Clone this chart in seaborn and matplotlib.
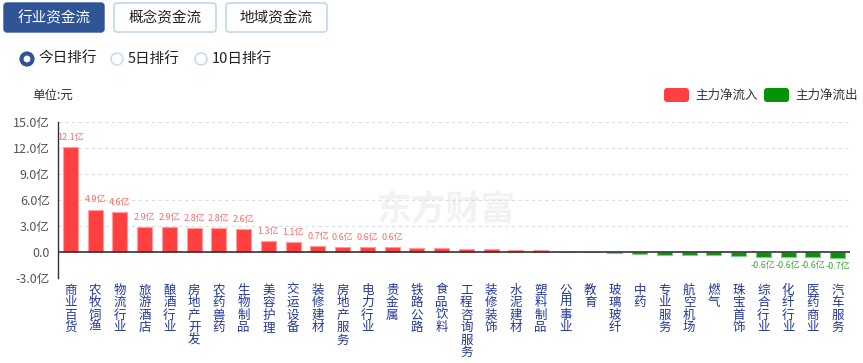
import matplotlib
matplotlib.use("Agg")
import matplotlib.pyplot as plt
import pandas as pd
import seaborn as sns
from matplotlib.patches import FancyBboxPatch, Circle

# industries and today's main net flow (unit: 亿元)
industries = ["商业百货", "农牧饲渔", "物流行业", "旅游酒店", "酿酒行业", "房地产开发",
              "农药兽药", "生物制品", "美容护理", "交运设备", "装修建材", "房地产服务",
              "电力行业", "贵金属", "铁路公路", "食品饮料", "工程咨询服务", "装修装饰",
              "水泥建材", "塑料制品", "公用事业", "教育", "玻璃玻纤", "中药",
              "专业服务", "航空机场", "燃气", "珠宝首饰", "综合行业", "化纤行业",
              "医药商业", "汽车服务"]
net_flow = [12.1, 4.9, 4.6, 2.9, 2.9, 2.8, 2.8, 2.6, 1.3, 1.1, 0.7, 0.6,
            0.6, 0.6, 0.5, 0.42, 0.35, 0.3, 0.23, 0.2, 0.03, -0.03, -0.15, -0.27,
            -0.3, -0.35, -0.4, -0.45, -0.6, -0.6, -0.6, -0.7]
y_ticks = [-3, 0, 3, 6, 9, 12, 15]
y_tick_labels = ["-3.0亿", "0.0", "3.0亿", "6.0亿", "9.0亿", "12.0亿", "15.0亿"]
tabs = ["行业资金流", "概念资金流", "地域资金流"]
ranks = ["今日排行", "5日排行", "10日排行"]
legend_names = ["主力净流入", "主力净流出"]

RED, GREEN = "#ff4040", "#069406"

df = pd.DataFrame({"industry": industries, "flow": net_flow})
df["direction"] = ["in" if v >= 0 else "out" for v in df["flow"]]

sns.set_theme(style="white")
plt.rcParams["font.family"] = ["Noto Sans CJK SC", "DejaVu Sans"]

W, H = 863, 363
fig = plt.figure(figsize=(W / 100, H / 100), dpi=100)

# chart area
ax = fig.add_axes([58 / W, 1 - 278 / H, (850 - 58) / W, (278 - 122) / H])
sns.barplot(data=df, x="industry", y="flow", hue="direction",
            palette={"in": RED, "out": GREEN}, dodge=False, legend=False,
            width=0.6, saturation=1, ax=ax, zorder=3)
for p, v in zip(ax.patches, df["flow"]):
    p.set_edgecolor("#ff9c9c" if v >= 0 else "#7fcf7f")
    p.set_linewidth(0.8)

ax.set_xlim(-0.5, len(industries) - 0.5)
ax.set_ylim(-3, 15)
ax.set_yticks(y_ticks)
ax.set_yticklabels(y_tick_labels, fontsize=9, color="#555555")
ax.set_xticks(range(len(industries)))
ax.set_xticklabels(["\n".join(n) for n in industries], fontsize=9,
                   color="#22379b", linespacing=0.95, va="top")
ax.tick_params(axis="both", length=0)
ax.tick_params(axis="y", pad=6)
ax.tick_params(axis="x", pad=4)
ax.set_xlabel("")
ax.set_ylabel("")
for t in y_ticks:
    if t != 0:
        ax.axhline(t, color="#dddddd", lw=0.8, ls=(0, (3, 3)), zorder=1)
ax.axhline(0, color="#333333", lw=1.2, zorder=4)
for s in ["top", "right", "bottom"]:
    ax.spines[s].set_visible(False)
ax.spines["left"].set_color("#333333")
ax.spines["left"].set_linewidth(1.0)

# value labels for larger flows
for i, v in enumerate(net_flow):
    if abs(v) >= 0.55:
        if v > 0:
            ax.annotate(f"{v:.1f}亿", (i, v), xytext=(0, 7), textcoords="offset points",
                        ha="center", va="center", fontsize=6.5, color="#ff6a6a")
        else:
            ax.annotate(f"{v:.1f}亿", (i, v), xytext=(0, -6), textcoords="offset points",
                        ha="center", va="center", fontsize=6.5, color="#3aa83a")

# watermark
ax.text(0.49, 0.44, "东方财富", transform=ax.transAxes, ha="center", va="center",
        fontsize=25, fontweight="bold", color="#f2f2f2", zorder=0)

# overlay in pixel coordinates for the page controls
ui = fig.add_axes([0, 0, 1, 1])
ui.set_xlim(0, W)
ui.set_ylim(H, 0)
ui.axis("off")
ui.patch.set_visible(False)

tab_x = [(4, 104), (114, 216), (226, 327)]
for k, (name, (x0, x1)) in enumerate(zip(tabs, tab_x)):
    active = k == 0
    ui.add_patch(FancyBboxPatch((x0, 3), x1 - x0, 29, boxstyle="round,pad=0,rounding_size=3",
                                fc="#2f5597" if active else "white",
                                ec="#2f5597" if active else "#b9cfe6", lw=1))
    ui.text((x0 + x1) / 2, 18, name, ha="center", va="center", fontsize=10.5,
            color="white" if active else "#222222")

radio_x = [27, 117, 201]
for k, (name, cx) in enumerate(zip(ranks, radio_x)):
    if k == 0:
        ui.add_patch(Circle((cx, 59), 5.5, fc="white", ec="#2f5597", lw=3))
    else:
        ui.add_patch(Circle((cx, 59), 6, fc="white", ec="#c5d6e8", lw=1))
    ui.text(cx + 11, 59, name, ha="left", va="center", fontsize=10.5, color="#222222")

ui.text(32, 95, "单位:元", ha="left", va="center", fontsize=9, color="#333333")

for name, x0, c in zip(legend_names, [664, 764], [RED, GREEN]):
    ui.add_patch(FancyBboxPatch((x0, 88), 25, 14, boxstyle="round,pad=0,rounding_size=3",
                                fc=c, ec="none"))
    ui.text(x0 + 31, 95, name, ha="left", va="center", fontsize=9, color="#333333")

fig.savefig("out.png", dpi=100)
